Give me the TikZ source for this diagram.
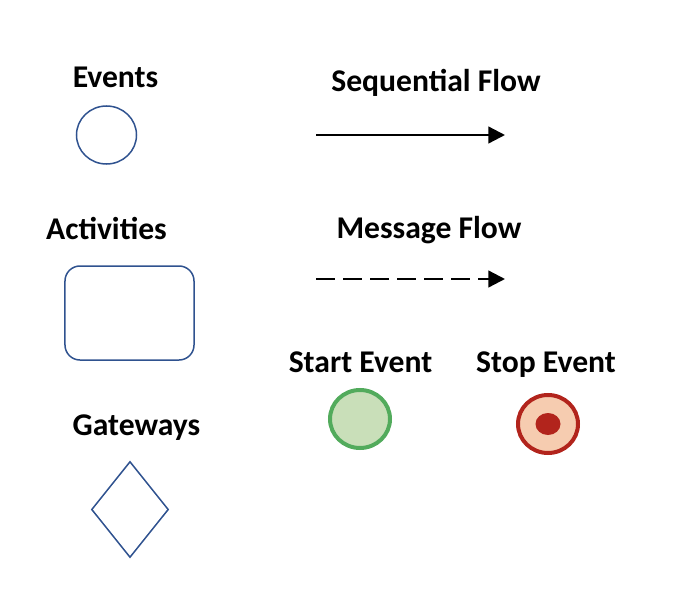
\documentclass[tikz,border=0pt]{standalone}
\usepackage{fontspec}
\setmainfont{Carlito}
\usetikzlibrary{arrows.meta,shapes.geometric}
\definecolor{shapeblue}{RGB}{47,82,143}
\definecolor{startline}{RGB}{82,171,92}
\definecolor{startfill}{RGB}{201,223,185}
\definecolor{stopline}{RGB}{178,36,28}
\definecolor{stopfill}{RGB}{246,204,176}

\begin{document}
\begin{tikzpicture}[x=0.03cm,y=-0.03cm,
  title/.style={font=\bfseries\fontsize{27}{31}\selectfont, anchor=base, inner sep=0pt},
  outline/.style={draw=shapeblue, line width=0.045cm, inner sep=0pt},
  flow/.style={line width=0.07cm, -{Triangle[length=0.5cm,width=0.5cm]}},
  event/.style={ellipse, line width=0.12cm, inner sep=0pt, minimum width=1.8cm, minimum height=1.74cm}]
\def\flowstart{316}
\def\flowend{505}
\useasboundingbox (0,0) rectangle (688,612);

% Left column
\node[title] (events-label) at (115.5,87) {Events};
\node[outline, ellipse, minimum width=1.8cm, minimum height=1.74cm] (event) at (106.5,135) {};

\node[title] (activities-label) at (106.5,239) {Activities};
\node[outline, rectangle, rounded corners=0.45cm, minimum width=3.87cm, minimum height=2.82cm] (activity) at (129.5,313) {};

\node[title] (gateways-label) at (136.5,435) {Gateways};
\node[outline, diamond, minimum width=2.31cm, minimum height=2.88cm] (gateway) at (130,509.5) {};

% Flows
\node[title] (seq-label) at (436,91) {Sequential Flow};
\coordinate (seq-start) at (\flowstart,135);
\coordinate (seq-end) at (\flowend,135);
\draw[flow] (seq-start) -- (seq-end);

\node[title] (msg-label) at (429,238) {Message Flow};
\coordinate (msg-start) at (\flowstart,279);
\coordinate (msg-end) at (\flowend,279);
\draw[flow, dash pattern=on 0.57cm off 0.24cm] (msg-start) -- (msg-end);

% Start and stop
\node[title] (start-label) at (360.5,372) {Start Event};
\node[event, draw=startline, fill=startfill] (start) at (360,419) {};

\node[title] (stop-label) at (546,372) {Stop Event};
\node[event, draw=stopline, fill=stopfill] (stop) at (548,424) {};
\node[ellipse, fill=stopline, inner sep=0pt, minimum width=0.75cm, minimum height=0.66cm] (stop-core) at (stop.center) {};
\end{tikzpicture}
\end{document}
